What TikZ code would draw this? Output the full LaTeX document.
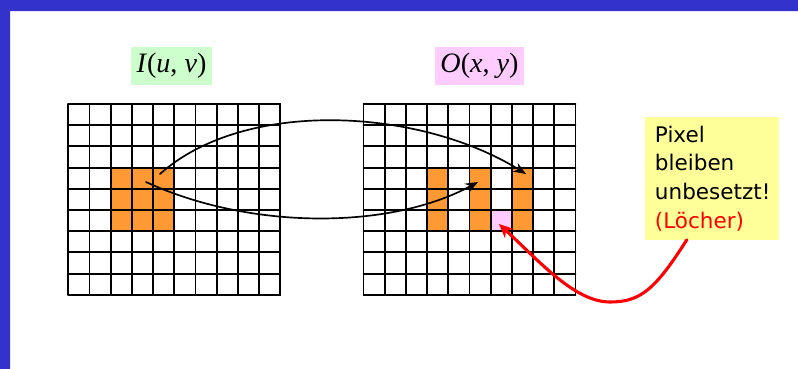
\documentclass[tikz,border=0pt]{standalone}
\usepackage{fontspec}
\setmainfont{Liberation Serif}
\newfontfamily\notefont{DejaVu Sans}
\usetikzlibrary{arrows.meta}
\definecolor{frameblue}{HTML}{3333CC}
\definecolor{pixorange}{HTML}{FF9933}
\definecolor{holepink}{HTML}{FFCCFF}
\definecolor{labelgreen}{HTML}{CCFFCC}
\definecolor{noteyellow}{HTML}{FFFF99}
\tikzset{
  gridline/.style={line width=1.3pt},
  lbl/.style={minimum height=0.925cm, inner sep=0pt, font=\fontsize{20}{24}\selectfont},
  note/.style={fill=noteyellow, text width=2.85cm, inner xsep=0.25cm, minimum height=3.05cm,
    align=left, font=\notefont\fontsize{15.3}{20.3}\selectfont},
  mapcurve/.style={-{Stealth[length=9pt,width=7pt]}, line width=1.2pt},
  holearrow/.style={-{Stealth[length=10pt,width=9pt]}, red, line width=2.2pt}
}
\begin{document}
\begin{tikzpicture}[x=0.025cm,y=-0.025cm,line join=round,line cap=round]
        \useasboundingbox (0,0) rectangle (798,369);
        \fill[frameblue] (0,0) rectangle (798,11) (0,0) rectangle (10,369);
        % pixels that are set
        \fill[pixorange] (110.7,167.6) rectangle (174.3,231.2);
        \fill[pixorange] (427.1,167.6) rectangle (448.3,231.2) (469.5,167.6) rectangle (490.7,231.2)
                         (511.9,167.6) rectangle (533.1,231.2);
        \fill[holepink] (490.7,210) rectangle (511.9,231.2);
        % the two pixel grids
        \foreach \gx in {68.3,363.5}{
          \foreach \i in {0,...,10} \draw[gridline] ({\gx+\i*21.2},104) -- ({\gx+\i*21.2},294.8);
          \foreach \j in {0,...,9} \draw[gridline] (\gx,{104+\j*21.2}) -- ({\gx+212},{104+\j*21.2});
        }
        \node[lbl,fill=labelgreen,minimum width=2.025cm] (inlbl) at (171.5,66) {\textit{I}(\textit{u}, \textit{v})};
        \node[lbl,fill=holepink,minimum width=2.225cm] (outlbl) at (479.5,66) {\textit{O}(\textit{x}, \textit{y})};
        \node[note] (note) at (712,178.5) {Pixel\\bleiben\\unbesetzt!\\\textcolor{red}{(Löcher)}};
        \coordinate (srcA) at (160,174);
        \coordinate (dstA) at (526,174);
        \coordinate (srcB) at (146,182);
        \coordinate (dstB) at (478,182);
        \coordinate (hole) at (499,224);
        \draw[mapcurve] (srcA) .. controls (245,98) and (420,108) .. (dstA);
        \draw[mapcurve] (srcB) .. controls (250,230) and (390,230) .. (dstB);
        \draw[holearrow] ([xshift=-0.63cm]note.south) .. controls (655,290) and (640,302) .. (610,302)
                         .. controls (575,302) and (540,262) .. (hole);
\end{tikzpicture}
\end{document}
